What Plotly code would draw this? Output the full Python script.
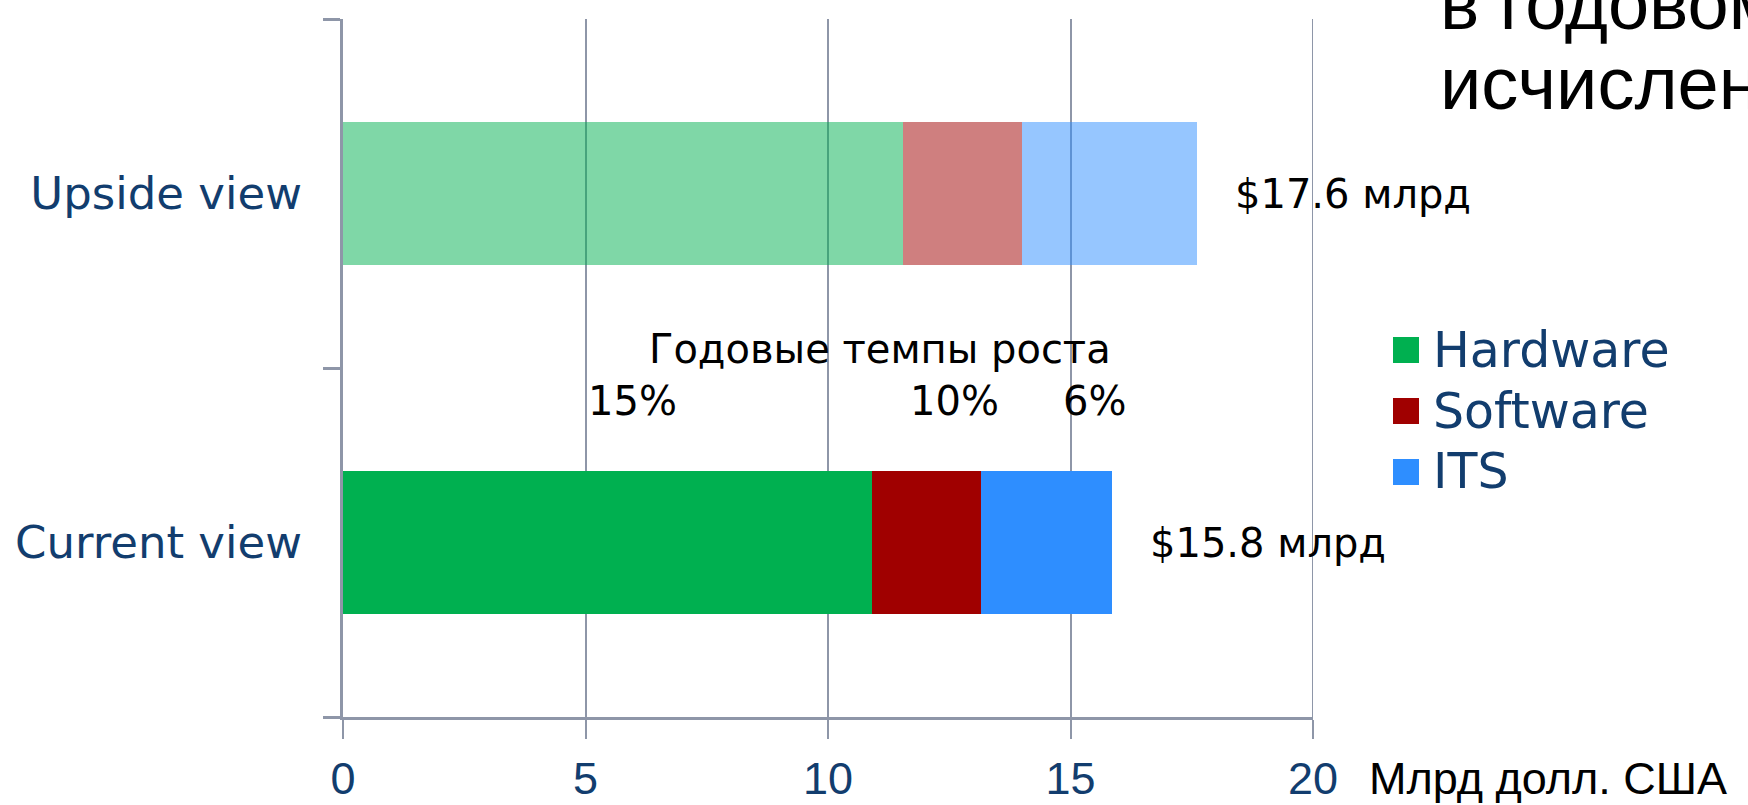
import plotly.graph_objects as go

# ---- data ----
categories = ["Current view", "Upside view"]
series_names = ["Hardware", "Software", "ITS"]
hardware = [10.9, 11.55]
software = [2.25, 2.45]
its = [2.7, 3.6]
total_labels = ["$15.8 млрд", "$17.6 млрд"]
totals = [h + s + i for h, s, i in zip(hardware, software, its)]
growth_title = "Годовые темпы роста"
growth_labels = ["15%", "10%", "6%"]
x_ticks = [0, 5, 10, 15, 20]
x_unit = "Млрд долл. США"
corner_lines = ["в годовом", "исчислении"]

# ---- styles ----
colors = ["#00B050", "#A00000", "#2E8EFF"]
cat_opacity = [1.0, 0.5]
navy = "#123D6E"
grid = "#8E96A8"
W, H = 1748, 805
L, R, T, B = 343, 435, 19, 88
PW, PH = W - L - R, H - T - B

def px_x(px):
    return (px - L) / PW

def px_y(py):
    return (H - B - py) / PH

fig = go.Figure()
for name, vals, col in zip(series_names, [hardware, software, its], colors):
    fig.add_trace(go.Bar(
        y=categories, x=vals, name=name, orientation="h",
        marker=dict(color=col, opacity=cat_opacity, line=dict(width=0)),
        hoverinfo="skip",
    ))

label_font = dict(family="DejaVu Sans", size=40, color="black")
annotations = []
# totals
for cat, tot, lab in zip(categories, totals, total_labels):
    annotations.append(dict(x=tot, y=cat, xref="x", yref="y", text=lab,
                            showarrow=False, xanchor="left", yanchor="middle",
                            xshift=36, font=label_font))
# growth title + labels
annotations.append(dict(x=11.07, y=0.554, xref="x", yref="y", text=growth_title,
                        showarrow=False, xanchor="center", yanchor="middle",
                        font=label_font))
for lab, gx in zip(growth_labels, [5.96, 12.6, 15.5]):
    annotations.append(dict(x=gx, y=0.405, xref="x", yref="y", text=lab,
                            showarrow=False, xanchor="center", yanchor="middle",
                            font=label_font))
# unit label
annotations.append(dict(x=px_x(1367), y=px_y(778), xref="paper", yref="paper", text=x_unit,
                        showarrow=False, xanchor="left", yanchor="middle",
                        font=dict(family="Liberation Sans", size=45, color="black")))
# corner text
for line, cy in zip(corner_lines, [4, 83]):
    annotations.append(dict(x=px_x(1438), y=px_y(cy), xref="paper", yref="paper", text=line,
                            showarrow=False, xanchor="left", yanchor="middle",
                            font=dict(family="Liberation Sans", size=74, color="black")))

# custom legend
shapes = []
for i, (name, col) in enumerate(zip(series_names, colors)):
    cy = 350 + i * 61
    shapes.append(dict(type="rect", xref="paper", yref="paper",
                       x0=px_x(1393), x1=px_x(1419), y0=px_y(cy + 13), y1=px_y(cy - 13),
                       fillcolor=col, line=dict(width=0)))
    annotations.append(dict(x=px_x(1431), y=px_y(cy), xref="paper", yref="paper", text=name,
                            showarrow=False, xanchor="left", yanchor="middle",
                            font=dict(family="DejaVu Sans", size=49, color=navy)))

# gridline at the last tick (edge of the plot area)
shapes.append(dict(type="line", xref="x", yref="paper", x0=x_ticks[-1], x1=x_ticks[-1],
                   y0=0, y1=1, line=dict(color=grid, width=2), layer="below"))

fig.update_layout(
    width=W, height=H,
    margin=dict(l=L, r=R, t=T, b=B, pad=0),
    plot_bgcolor="white", paper_bgcolor="white",
    barmode="stack", bargap=0.59, showlegend=False,
    annotations=annotations, shapes=shapes,
    xaxis=dict(range=[0, 20], tickvals=x_ticks, ticktext=[str(v) for v in x_ticks],
               ticks="outside", ticklen=19, tickwidth=2, tickcolor=grid,
               showline=True, linecolor=grid, linewidth=3,
               showgrid=True, gridcolor=grid, gridwidth=2, zeroline=False,
               tickfont=dict(family="Liberation Sans", size=45, color=navy),
               ticklabelstandoff=1, automargin=False, fixedrange=True),
    yaxis=dict(categoryorder="array", categoryarray=categories, range=[-0.5, 1.5],
               ticks="outside", tickson="boundaries", ticklen=17, tickwidth=3, tickcolor=grid,
               showline=True, linecolor=grid, linewidth=3, showgrid=False, zeroline=False,
               tickfont=dict(family="DejaVu Sans", size=45, color=navy),
               ticklabelstandoff=29, automargin=False, fixedrange=True),
)

fig.write_html("out.html", config={"displayModeBar": False},
               post_script="document.body.style.margin='0';document.body.style.overflow='hidden';")
